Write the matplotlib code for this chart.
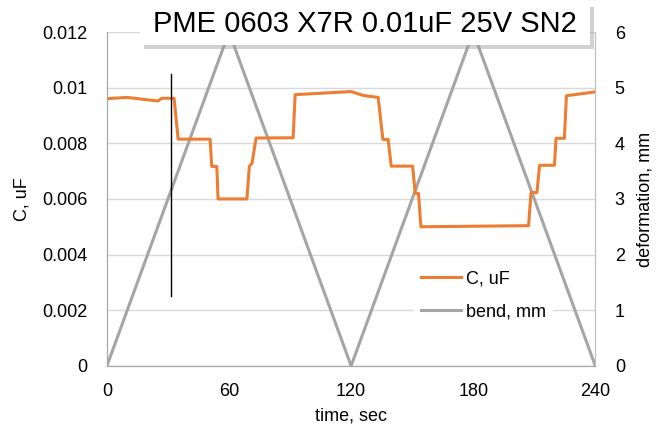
import matplotlib

matplotlib.use("Agg")
import matplotlib.pyplot as plt
from matplotlib.lines import Line2D
from matplotlib.patches import Rectangle

plt.rcParams["font.family"] = ["Liberation Sans", "DejaVu Sans"]

# capacitance trace
time_c = [0, 3, 10, 25, 27, 33, 35, 50.7, 51.5, 54, 54.6, 68.8, 70, 71.3, 73.3,
          91.5, 92.5, 120, 126, 133.3, 135.6, 138.2, 139.7, 150.2, 151.5, 153.1,
          154.3, 207.2, 208.4, 211.3, 212.6, 219.9, 220.7, 224.8, 225.8, 240]
cap_uf = [0.0096, 0.00962, 0.00965, 0.00952, 0.00962, 0.00962, 0.00815, 0.00815,
          0.00717, 0.00717, 0.0060, 0.0060, 0.00718, 0.00728, 0.00819, 0.00820,
          0.00975, 0.00986, 0.00972, 0.00965, 0.00814, 0.00814, 0.00718, 0.00718,
          0.0062, 0.0062, 0.0050, 0.00504, 0.00623, 0.00623, 0.00721, 0.00721,
          0.00818, 0.00818, 0.00971, 0.00985]

# bend profile
time_bend = [0, 60, 120, 180, 240]
bend_mm = [0, 6, 0, 6, 0]

# marker line
marker_t = [31.3, 31.3]
marker_c = [0.0105, 0.0025]

x_ticks = [0, 60, 120, 180, 240]
c_ticks = [0, 0.002, 0.004, 0.006, 0.008, 0.01, 0.012]
c_labels = ["0", "0.002", "0.004", "0.006", "0.008", "0.01", "0.012"]
bend_ticks = [0, 1, 2, 3, 4, 5, 6]

ORANGE = "#ED7D31"
GREY = "#A5A5A5"
GRID = "#D9D9D9"
FS = 13

fig = plt.figure(figsize=(6.6, 4.33), dpi=100)
ax = fig.add_axes([0.162, 0.155, 0.740, 0.771])
ax2 = ax.twinx()

ax2.plot(time_bend, bend_mm, color=GREY, linewidth=2.2, solid_joinstyle="miter")
ax2.set_ylim(0, 6)
ax2.set_yticks(bend_ticks)
ax2.set_ylabel("deformation, mm", fontsize=FS, labelpad=8)
ax2.grid(True, color=GRID, linewidth=1.0)
ax2.set_axisbelow(True)

ax.plot(time_c, cap_uf, color=ORANGE, linewidth=2.2)
ax.plot(marker_t, marker_c, color="black", linewidth=1.0)
ax.set_xlim(0, 240)
ax.set_ylim(0, 0.012)
ax.set_xticks(x_ticks)
ax.set_yticks(c_ticks)
ax.set_yticklabels(c_labels)
ax.set_xlabel("time, sec", fontsize=FS, labelpad=6)
ax.set_ylabel("C, uF", fontsize=FS, labelpad=8)
ax.set_zorder(ax2.get_zorder() + 1)
ax.patch.set_visible(False)

for a in (ax, ax2):
    a.tick_params(length=0, labelsize=FS)
    a.spines["top"].set_visible(False)
    a.spines["left"].set_color("#A6A6A6")
    a.spines["bottom"].set_color("#A6A6A6")
    a.spines["right"].set_color("#BFBFBF")
ax.tick_params(axis="y", pad=14)
ax.tick_params(axis="x", pad=12)
ax2.tick_params(axis="y", pad=14)

handles = [Line2D([], [], color=ORANGE, linewidth=2.2),
           Line2D([], [], color=GREY, linewidth=2.2)]
leg = ax.legend(handles, ["C, uF", "bend, mm"], loc="upper left",
                bbox_to_anchor=(0.61, 0.335), fontsize=FS, frameon=True,
                fancybox=False, edgecolor="none", facecolor="white",
                framealpha=1.0, handlelength=2.2, handletextpad=0.3,
                labelspacing=0.9, borderpad=0.4)

# title in a white box with a soft drop shadow
W, H = 660, 433
box_x0, box_y0, box_x1, box_y1 = 140, 3, 590, 45
fig.patches.append(Rectangle((box_x0 + 4, box_y0 + 4), box_x1 - box_x0, box_y1 - box_y0,
                             transform=fig.transFigure, facecolor="#9A9A9A", alpha=0.45,
                             edgecolor="none", zorder=5))
fig.patches.append(Rectangle((box_x0, box_y0), box_x1 - box_x0, box_y1 - box_y0,
                             transform=fig.transFigure, facecolor="white",
                             edgecolor="none", zorder=6))
for p in fig.patches[-2:]:
    x, y = p.get_xy()
    p.set_xy((x / W, 1 - (y + p.get_height()) / H))
    p.set_width(p.get_width() / W)
    p.set_height(p.get_height() / H)

fig.text((box_x0 + box_x1) / 2 / W, 1 - (box_y0 + box_y1) / 2 / H,
         "PME 0603 X7R 0.01uF 25V SN2", fontsize=21, color="black",
         ha="center", va="center", zorder=7)

fig.savefig("out.png", dpi=100)
